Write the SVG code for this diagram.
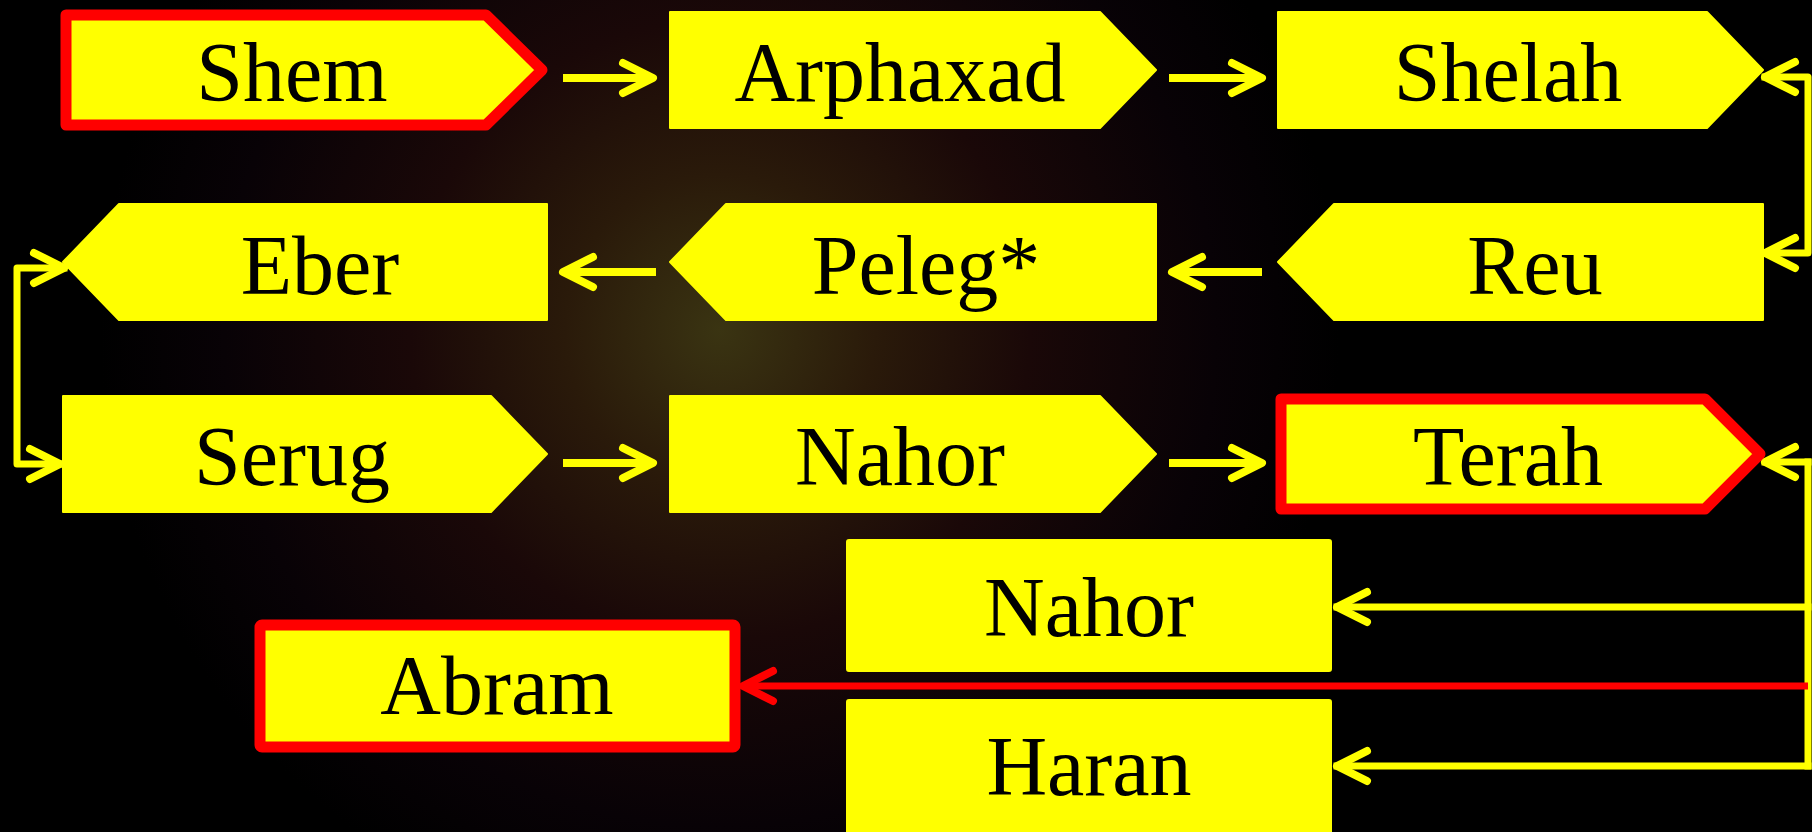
<svg xmlns="http://www.w3.org/2000/svg" width="1812" height="832" viewBox="0 0 1812 832">
<defs>
<radialGradient id="bg" cx="720" cy="330" r="620" gradientUnits="userSpaceOnUse">
<stop offset="0" stop-color="#3a3412"/>
<stop offset="0.25" stop-color="#2a1a0a"/>
<stop offset="0.5" stop-color="#1a0808"/>
<stop offset="0.8" stop-color="#080206"/>
<stop offset="1" stop-color="#000"/>
</radialGradient>
<marker id="ay" markerUnits="userSpaceOnUse" markerWidth="60" markerHeight="60" viewBox="-40 -30 60 60" refX="0" refY="0" orient="auto-start-reverse">
<path d="M-30,-15 L0,0 L-30,15" fill="none" stroke="#ffff00" stroke-width="8" stroke-linecap="round" stroke-linejoin="round"/>
</marker>
<marker id="ar" markerUnits="userSpaceOnUse" markerWidth="60" markerHeight="60" viewBox="-40 -30 60 60" refX="0" refY="0" orient="auto-start-reverse">
<path d="M-30,-15 L0,0 L-30,15" fill="none" stroke="#ff0000" stroke-width="8" stroke-linecap="round" stroke-linejoin="round"/>
</marker>
<style>
.n{fill:#ffff00;stroke:#ffff00;stroke-width:2;stroke-linejoin:round}
.h{fill:#ffff00;stroke:#ff0000;stroke-width:11;stroke-linejoin:round}
.t{font-family:"Liberation Serif","Times New Roman",serif;font-size:84px;fill:#000;text-anchor:middle}
.c{fill:none;stroke:#ffff00;stroke-width:8}
.cv{fill:none;stroke:#ffff00;stroke-width:7;stroke-linecap:square}
.cr{fill:none;stroke:#ff0000;stroke-width:7}
</style>
</defs>
<rect width="1812" height="832" fill="#000"/>
<rect width="1812" height="832" fill="url(#bg)"/>

<g id="connectors">
<path class="c" d="M563,78 H653" marker-end="url(#ay)"/>
<path class="c" d="M1169,78 H1262" marker-end="url(#ay)"/>
<path class="c" d="M656,272 H563" marker-end="url(#ay)"/>
<path class="c" d="M1262,272 H1172" marker-end="url(#ay)"/>
<path class="c" d="M563,463 H653" marker-end="url(#ay)"/>
<path class="c" d="M1169,463 H1262" marker-end="url(#ay)"/>
<path class="cv" d="M1765,77 H1808 V253 H1765" stroke-linecap="butt" stroke-linejoin="round" marker-start="url(#ay)" marker-end="url(#ay)"/>
<path class="cv" d="M64,268 H17 V464 H60" stroke-linecap="butt" stroke-linejoin="round" marker-start="url(#ay)" marker-end="url(#ay)"/>
<path class="cv" d="M1808,462 H1765" stroke-linecap="butt" marker-end="url(#ay)"/>
<path class="cv" d="M1808,462 V766"/>
<path class="cv" d="M1808,607 H1337" stroke-linecap="butt" marker-end="url(#ay)"/>
<path class="cv" d="M1808,766 H1337" stroke-linecap="butt" marker-end="url(#ay)"/>
<path class="cr" d="M1808,686 H743" marker-end="url(#ar)"/>
</g>

<g id="shem"><path class="h" d="M66,15 H486 L542,70 L486,125 H66 Z"/><text class="t" x="292" y="101">Shem</text></g>
<g id="arphaxad"><path class="n" d="M670,12 H1100 L1156,70 L1100,128 H670 Z"/><text class="t" x="900" y="101">Arphaxad</text></g>
<g id="shelah"><path class="n" d="M1278,12 H1707 L1763,70 L1707,128 H1278 Z"/><text class="t" x="1508" y="101">Shelah</text></g>

<g id="eber"><path class="n" d="M63,262 L119,204 H547 V320 H119 Z"/><text class="t" x="320" y="294">Eber</text></g>
<g id="peleg"><path class="n" d="M670,262 L726,204 H1156 V320 H726 Z"/><text class="t" x="926" y="294">Peleg*</text></g>
<g id="reu"><path class="n" d="M1278,262 L1334,204 H1763 V320 H1334 Z"/><text class="t" x="1535" y="294">Reu</text></g>

<g id="serug"><path class="n" d="M63,396 H491 L547,454 L491,512 H63 Z"/><text class="t" x="292" y="485">Serug</text></g>
<g id="nahor1"><path class="n" d="M670,396 H1100 L1156,454 L1100,512 H670 Z"/><text class="t" x="900" y="485">Nahor</text></g>
<g id="terah"><path class="h" d="M1281,399 H1705 L1760,454 L1705,509 H1281 Z"/><text class="t" x="1508" y="485">Terah</text></g>

<g id="nahor2"><rect class="n" x="847" y="540" width="484" height="131" rx="2"/><text class="t" x="1089" y="636">Nahor</text></g>
<g id="abram"><rect class="h" x="260" y="625" width="475" height="122" rx="2"/><text class="t" x="497" y="714">Abram</text></g>
<g id="haran"><rect class="n" x="847" y="700" width="484" height="140" rx="2"/><text class="t" x="1089" y="795">Haran</text></g>
</svg>
